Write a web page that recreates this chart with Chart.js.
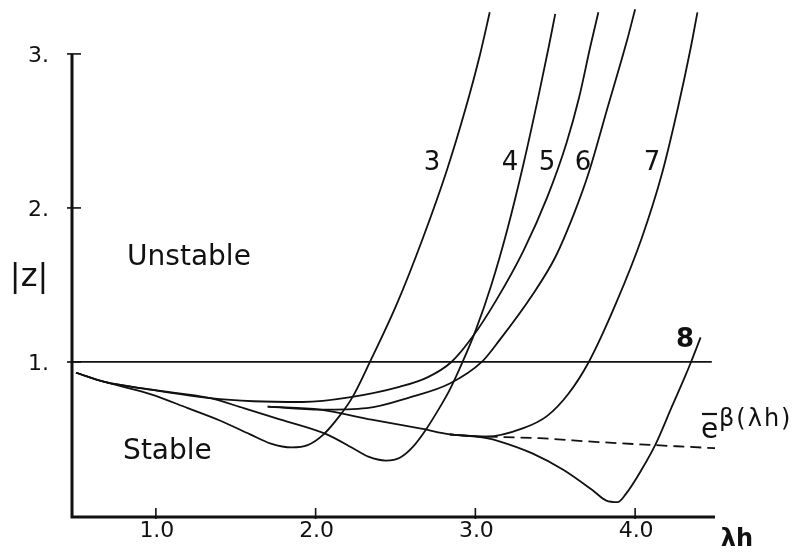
<!DOCTYPE html>
<html>
<head>
<meta charset="utf-8">
<script src="https://cdn.jsdelivr.net/npm/chart.js@4"></script>
<style>
  body { margin: 0; background: #fff; }
  canvas { display: block; }
</style>
</head>
<body>
<canvas id="myChart" width="803" height="556"></canvas>
<script>
// values, [lambda*h, |z|]
const order3 = [[0.5,0.93],[0.68,0.87],[0.97,0.79],[1.2,0.70],[1.4,0.62],[1.59,0.53],[1.72,0.47],[1.85,0.445],[1.95,0.46],[2.05,0.53],[2.15,0.65],[2.23,0.77],[2.34,1.0],[2.51,1.38],[2.67,1.80],[2.82,2.24],[2.94,2.65],[3.03,3.0],[3.09,3.27]];
const order4 = [[0.5,0.93],[0.68,0.87],[0.97,0.82],[1.34,0.765],[1.55,0.70],[1.75,0.635],[2.07,0.53],[2.25,0.43],[2.33,0.385],[2.44,0.36],[2.53,0.38],[2.61,0.45],[2.69,0.56],[2.78,0.71],[2.84,0.82],[2.92,1.0],[3.0,1.2],[3.1,1.5],[3.2,1.86],[3.3,2.28],[3.4,2.75],[3.46,3.05],[3.50,3.26]];
const order5 = [[0.5,0.93],[0.68,0.87],[0.97,0.82],[1.34,0.765],[1.61,0.745],[1.92,0.74],[2.21,0.77],[2.53,0.84],[2.70,0.90],[2.85,1.0],[2.98,1.16],[3.13,1.40],[3.30,1.72],[3.45,2.07],[3.57,2.42],[3.65,2.72],[3.72,3.05],[3.77,3.27]];
const order6 = [[1.70,0.71],[2.03,0.69],[2.32,0.70],[2.59,0.77],[2.84,0.86],[3.04,1.0],[3.15,1.14],[3.36,1.44],[3.5,1.68],[3.62,1.97],[3.71,2.23],[3.83,2.66],[3.95,3.09],[4.00,3.29]];
const order7 = [[2.84,0.53],[3.07,0.515],[3.3,0.57],[3.45,0.65],[3.58,0.79],[3.71,1.0],[3.88,1.38],[4.04,1.80],[4.17,2.23],[4.27,2.66],[4.35,3.05],[4.39,3.27]];
const order8 = [[2.84,0.53],[3.07,0.505],[3.15,0.485],[3.36,0.405],[3.55,0.30],[3.73,0.17],[3.82,0.10],[3.89,0.09],[3.94,0.14],[4.04,0.30],[4.13,0.47],[4.23,0.71],[4.31,0.90],[4.35,1.0],[4.41,1.16]];
const expBeta = [[1.70,0.71],[2.03,0.69],[2.35,0.625],[2.67,0.565],[2.84,0.53],[3.07,0.515]];
const expBetaDashed = [[3.07,0.515],[3.4,0.505],[3.77,0.48],[4.5,0.44]];
const unitLine = [[0.475,1],[4.48,1]];

const xTicks = [1, 2, 3, 4];
const xTickLabels = ['1.0', '2.0', '3.0', '4.0'];
const yTicks = [1, 2, 3];
const yTickLabels = ['1.', '2.', '3.'];

function toPoints(pairs) {
    return pairs.map(p => ({ x: p[0], y: p[1] }));
}

function curve(label, pairs, dash) {
    return {
        label: label,
        data: toPoints(pairs),
        borderColor: '#111',
        borderWidth: 1.8,
        borderDash: dash || [],
        pointRadius: 0,
        fill: false,
        cubicInterpolationMode: 'monotone'
    };
}

// axes, ticks and the hand lettering
const paperPlugin = {
    id: 'paper',
    afterDraw(chart) {
        const ctx = chart.ctx;
        const xs = chart.scales.x, ys = chart.scales.y;
        const px = v => xs.getPixelForValue(v);
        const py = v => ys.getPixelForValue(v);
        const x0 = px(xs.min), x1 = px(xs.max);
        const yb = py(0);
        ctx.save();
        ctx.strokeStyle = '#111';
        ctx.fillStyle = '#111';

        ctx.lineWidth = 3;
        ctx.beginPath();
        ctx.moveTo(x0, py(3));
        ctx.lineTo(x0, yb + 1);
        ctx.lineTo(x1, yb + 1);
        ctx.stroke();

        ctx.lineWidth = 1.6;
        xTicks.forEach(t => {
            ctx.beginPath();
            ctx.moveTo(px(t), yb - 8);
            ctx.lineTo(px(t), yb + 3);
            ctx.stroke();
        });
        yTicks.forEach(t => {
            ctx.beginPath();
            ctx.moveTo(x0 - 5, py(t));
            ctx.lineTo(x0 + 9, py(t));
            ctx.stroke();
        });

        ctx.font = '22px "DejaVu Sans"';
        ctx.textBaseline = 'middle';
        ctx.textAlign = 'center';
        xTicks.forEach((t, i) => ctx.fillText(xTickLabels[i], px(t) + 1, yb + 15));
        ctx.textAlign = 'right';
        yTicks.forEach((t, i) => ctx.fillText(yTickLabels[i], x0 - 23, py(t) + 2));

        ctx.textAlign = 'left';
        ctx.font = '28px "DejaVu Sans"';
        ctx.fillText('Unstable', px(0.82), py(1.68));
        ctx.fillText('Stable', px(0.795), py(0.415));

        ctx.textAlign = 'center';
        ctx.font = '32px "DejaVu Sans"';
        ctx.fillText('|z|', px(0.206), py(1.545));

        ctx.font = '26px "DejaVu Sans"';
        [['3', 2.729], ['4', 3.217], ['5', 3.449], ['6', 3.674], ['7', 4.106]].forEach(l => {
            ctx.fillText(l[0], px(l[1]), py(2.29));
        });
        ctx.font = 'bold 26px "DejaVu Sans"';
        ctx.fillText('8', px(4.312), py(1.143));

        ctx.font = 'bold 24px "DejaVu Sans"';
        ctx.fillText('λh', 737, 540);

        // e with overbar and superscript
        ctx.textAlign = 'left';
        ctx.textBaseline = 'alphabetic';
        ctx.font = '28px "DejaVu Sans"';
        ctx.fillText('e', 701, 438);
        ctx.lineWidth = 2.2;
        ctx.beginPath();
        ctx.moveTo(702, 414);
        ctx.lineTo(717, 414);
        ctx.stroke();
        ctx.font = '24px "DejaVu Sans"';
        ctx.letterSpacing = '2px';
        ctx.fillText('β(λh)', 719, 426);
        ctx.restore();
    }
};

const ctx = document.getElementById('myChart').getContext('2d');
new Chart(ctx, {
    type: 'line',
    data: {
        datasets: [
            curve('3', order3),
            curve('4', order4),
            curve('5', order5),
            curve('6', order6),
            curve('7', order7),
            curve('8', order8),
            curve('exp(-beta)', expBeta),
            curve('exp(-beta) ext', expBetaDashed, [11, 6]),
            curve('|z| = 1', unitLine)
        ]
    },
    options: {
        responsive: false,
        animation: false,
        layout: { padding: { left: 72, right: 88, top: 0, bottom: 40 } },
        plugins: { legend: { display: false }, tooltip: { enabled: false } },
        scales: {
            x: { type: 'linear', min: 0.475, max: 4.5, display: false },
            y: { type: 'linear', min: 0, max: 3.35, display: false }
        }
    },
    plugins: [paperPlugin]
});
</script>
</body>
</html>
